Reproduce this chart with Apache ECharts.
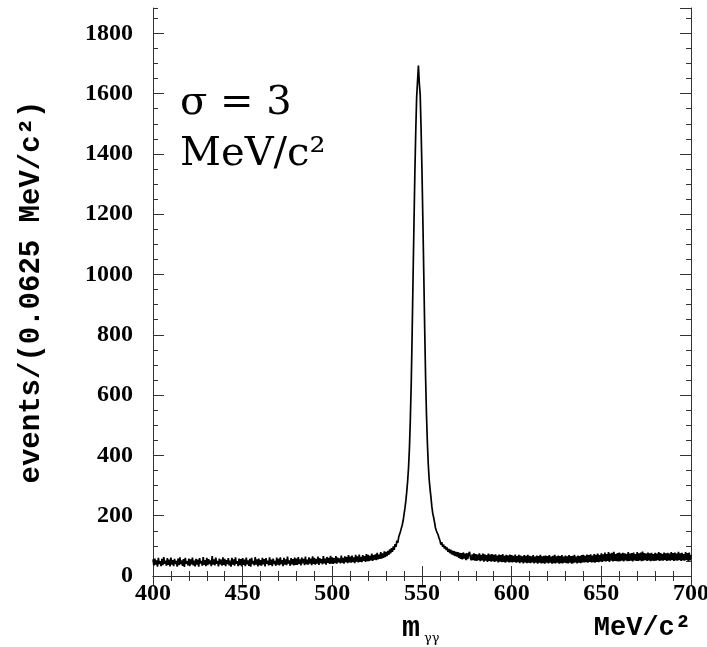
<!DOCTYPE html>
<html>
<head>
<meta charset="utf-8">
<script src="https://cdn.jsdelivr.net/npm/echarts@6/dist/echarts.min.js"></script>
<style>html,body{margin:0;padding:0;background:#fff;overflow:hidden}#chart{width:707px;height:647px}</style>
</head>
<body>
<div id="chart"></div>
<script>
// m_gamma-gamma histogram, values (one value per 0.5 MeV/c^2;
// the alternating values trace the upper/lower edge of the noisy band)
const massStart = 400;   // MeV/c^2
const massStep = 0.5;    // MeV/c^2 between plotted values
const events = [
  55, 34, 58, 38, 52, 31, 60, 40, 49, 33, 57, 36, 63, 41, 51, 34, 59, 37, 54, 32,
  61, 38, 53, 33, 57, 40, 50, 31, 58, 36, 62, 39, 52, 34, 56, 30, 60, 41, 49, 35,
  58, 33, 55, 39, 61, 35, 51, 32, 57, 38, 54, 31, 59, 42, 50, 34, 63, 37, 53, 33,
  60, 36, 56, 40, 52, 33, 66, 38, 55, 35, 61, 41, 50, 32, 58, 39, 54, 34, 62, 37,
  57, 33, 53, 40, 59, 35, 51, 31, 60, 38, 55, 34, 62, 41, 49, 33, 58, 36, 56, 32,
  59, 37, 54, 33, 61, 39, 52, 34, 57, 31, 60, 40, 50, 35, 63, 38, 55, 32, 58, 36,
  53, 34, 60, 39, 56, 32, 59, 41, 51, 35, 62, 37, 54, 33, 58, 40, 50, 34, 61, 38,
  57, 35, 62, 40, 53, 33, 60, 38, 55, 36, 64, 41, 52, 34, 59, 39, 56, 35, 61, 37,
  58, 37, 63, 40, 55, 35, 61, 42, 57, 36, 64, 39, 54, 38, 62, 41, 58, 36, 65, 40,
  60, 38, 57, 41, 64, 37, 59, 43, 56, 39, 66, 42, 58, 38, 63, 44, 60, 40, 67, 41,
  62, 40, 59, 43, 66, 41, 61, 45, 58, 42, 68, 44, 60, 41, 65, 46, 63, 43, 69, 45,
  64, 44, 68, 46, 62, 43, 70, 48, 65, 45, 71, 47, 63, 46, 69, 50, 66, 47, 73, 49,
  70, 49, 67, 52, 74, 50, 69, 54, 72, 53, 77, 55, 71, 57, 79, 58, 75, 60, 82, 63,
  80, 66, 83, 70, 88, 75, 92, 80, 98, 87, 106, 97, 117, 110, 129, 128, 148, 152, 170, 184,
  205, 225, 250, 280, 315, 360, 425, 520, 640, 800, 985, 1160, 1330, 1470, 1585, 1640, 1693, 1635, 1595, 1480,
  1340, 1175, 1000, 820, 660, 535, 442, 370, 320, 288, 261, 230, 207, 194, 178, 160, 150, 147, 136, 126,
  118, 104, 112, 97, 105, 91, 99, 86, 95, 80, 90, 76, 87, 72, 84, 69, 82, 66, 80, 64,
  79, 60, 77, 57, 76, 55, 78, 58, 74, 53, 76, 56, 73, 80, 60, 52, 72, 53, 75, 51,
  73, 50, 71, 53, 75, 49, 70, 52, 74, 48, 72, 51, 69, 47, 74, 50, 71, 48, 73, 49,
  70, 47, 72, 49, 68, 45, 71, 48, 69, 46, 73, 47, 67, 44, 70, 48, 68, 45, 71, 46,
  69, 45, 67, 47, 71, 44, 66, 46, 70, 43, 68, 46, 65, 42, 69, 45, 67, 43, 70, 44,
  67, 43, 65, 45, 69, 42, 64, 44, 68, 41, 66, 44, 70, 42, 65, 43, 67, 41, 68, 44,
  66, 42, 69, 44, 64, 41, 67, 43, 70, 42, 65, 44, 68, 41, 66, 43, 69, 42, 64, 44,
  68, 43, 65, 42, 69, 44, 66, 41, 67, 43, 70, 45, 64, 42, 68, 44, 66, 43, 69, 45,
  70, 45, 67, 46, 71, 44, 69, 47, 72, 45, 68, 46, 73, 44, 70, 47, 74, 46, 69, 48,
  75, 47, 72, 49, 78, 48, 73, 50, 79, 47, 74, 51, 77, 48, 80, 50, 73, 49, 76, 48,
  78, 49, 74, 51, 77, 48, 75, 52, 73, 49, 79, 50, 74, 51, 76, 48, 78, 52, 73, 50,
  79, 50, 75, 52, 78, 49, 81, 51, 76, 53, 74, 50, 78, 52, 75, 49, 77, 51, 73, 50,
  77, 51, 74, 53, 79, 50, 76, 52, 73, 51, 78, 53, 75, 50, 77, 52, 74, 51, 79, 53,
  76, 50, 78, 52, 74, 51, 80, 53, 75, 50, 77, 52, 73, 51, 79, 53, 76, 50, 78, 52, 70
];
const xRange = [400, 700];
const xMajor = 50;
const xMinorDivisions = 5;
const yRange = [0, 1884];
const yMajor = 200;
const yMinor = 50;
const yTitle = 'events/(0.0625 MeV/c²)';
const xUnit = 'MeV/c²';
const xVar = 'm';
const xVarSub = 'γγ';
const noteLine1 = 'σ = 3';
const noteLine2 = 'MeV/c²';

const seriesData = events.map((v, i) => [massStart + i * massStep, v]);

const axisColor = '#333';
const labelFont = { fontFamily: 'Liberation Serif', fontWeight: 'bold', fontSize: 24, color: '#000' };
const plainNumber = v => String(v);

function xAxisDef(pos, showLabels) {
  return {
    type: 'value', position: pos, min: xRange[0], max: xRange[1], interval: xMajor,
    axisLine: { show: true, lineStyle: { color: axisColor, width: 1 } },
    axisTick: { show: true, inside: true, length: 10, lineStyle: { color: axisColor, width: 1 } },
    minorTick: { show: true, splitNumber: xMinorDivisions, length: 5, lineStyle: { color: axisColor, width: 1 } },
    axisLabel: Object.assign({ show: showLabels, margin: 6, formatter: plainNumber }, labelFont),
    splitLine: { show: false }, minorSplitLine: { show: false }
  };
}
function yAxisDef(pos, interval, tickLen, showLabels, showLine) {
  return {
    type: 'value', position: pos, min: yRange[0], max: yRange[1], interval: interval,
    axisLine: { show: showLine, lineStyle: { color: axisColor, width: 1 } },
    axisTick: { show: true, inside: true, length: tickLen, lineStyle: { color: axisColor, width: 1 } },
    axisLabel: Object.assign({ show: showLabels, margin: 20, showMaxLabel: false, formatter: plainNumber }, labelFont),
    splitLine: { show: false }
  };
}

const yMain = yAxisDef('left', yMajor, 11, true, true);
yMain.name = yTitle;
yMain.nameLocation = 'middle';
yMain.nameRotate = 90;
yMain.nameGap = 107;
yMain.nameTextStyle = { fontFamily: 'Liberation Mono', fontWeight: 'bold', fontSize: 29, color: '#000' };

const chart = echarts.init(document.getElementById('chart'), null, { renderer: 'canvas' });
chart.setOption({
  animation: false,
  backgroundColor: '#fff',
  grid: { left: 153, top: 8, right: 16, bottom: 71, containLabel: false, outerBoundsMode: 'none' },
  xAxis: [xAxisDef('bottom', true), xAxisDef('top', false)],
  yAxis: [
    yMain,
    yAxisDef('right', yMajor, 11, false, true),
    yAxisDef('left', yMinor, 5, false, false),
    yAxisDef('right', yMinor, 5, false, false)
  ],
  series: [{
    type: 'line', xAxisIndex: 0, yAxisIndex: 0, data: seriesData,
    showSymbol: false, symbol: 'none', sampling: null, smooth: false,
    lineStyle: { color: '#000', width: 1.7 }, z: 3
  }],
  graphic: [
    { type: 'text', x: 180, y: 104, style: { text: noteLine1, fontFamily: 'DejaVu Serif', fontSize: 40, fill: '#000', verticalAlign: 'middle' } },
    { type: 'text', x: 180, y: 155, style: { text: noteLine2, fontFamily: 'DejaVu Serif', fontSize: 40, fill: '#000', verticalAlign: 'middle' } },
    { type: 'text', x: 402, y: 628, style: { text: xVar, fontFamily: 'Liberation Mono', fontWeight: 'bold', fontSize: 30, fill: '#000', verticalAlign: 'middle' } },
    { type: 'text', x: 424, y: 639, style: { text: xVarSub, fontFamily: 'DejaVu Serif', fontSize: 13, fill: '#000', verticalAlign: 'middle' } },
    { type: 'text', x: 691, y: 628, style: { text: xUnit, fontFamily: 'Liberation Mono', fontWeight: 'bold', fontSize: 27, fill: '#000', align: 'right', verticalAlign: 'middle' } }
  ]
});
</script>
</body>
</html>
